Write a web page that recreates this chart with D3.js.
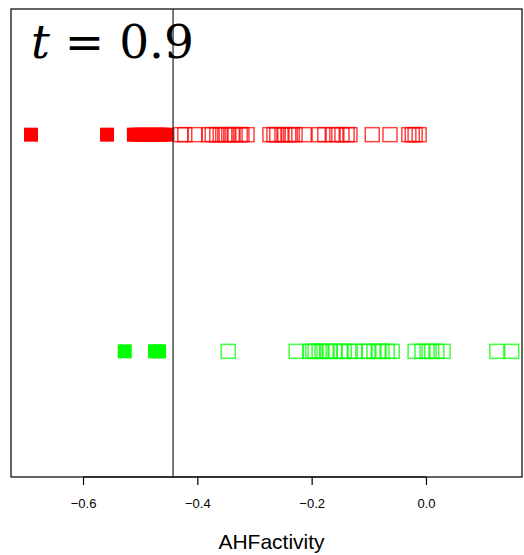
<!DOCTYPE html>
<html>
<head>
<meta charset="utf-8">
<script src="https://cdn.jsdelivr.net/npm/d3@7"></script>
<style>
  body { margin: 0; background: #fff; }
  svg { display: block; }
</style>
</head>
<body>
<svg id="chart" width="524" height="555"></svg>
<script>
// AHFactivity values per group
const redValues = [
  -0.691, -0.558, -0.511, -0.504, -0.497, -0.490, -0.483, -0.476, -0.469, -0.462, -0.455,
  -0.429, -0.422, -0.404, -0.380, -0.374, -0.366, -0.360, -0.352, -0.345, -0.339, -0.334,
  -0.325, -0.322, -0.313, -0.273, -0.266, -0.261, -0.252, -0.247, -0.240, -0.234, -0.229,
  -0.213, -0.187, -0.177, -0.164, -0.156, -0.147, -0.138, -0.133, -0.094, -0.063, -0.030,
  -0.024, -0.019, -0.012
];
const greenValues = [
  -0.527, -0.474, -0.467,
  -0.346, -0.227, -0.203, -0.198, -0.194, -0.187, -0.182, -0.173, -0.168, -0.159, -0.150,
  -0.143, -0.135, -0.124, -0.108, -0.100, -0.091, -0.082, -0.077, -0.068, -0.059, -0.019,
  -0.007, 0.002, 0.010, 0.019, 0.030, 0.124, 0.150
];
const groups = [
  {name: "red", level: 2, color: "#ff0000", values: redValues},
  {name: "green", level: 1, color: "#00ff00", values: greenValues}
];
const threshold = -0.4425;
const tValue = "0.9";
const xTicks = [-0.6, -0.4, -0.2, 0.0];
const xLabel = "AHFactivity";

const box = {left: 11, top: 9, right: 522, bottom: 477};
const SIZE = 14;

const svg = d3.select("#chart");

const x = d3.scaleLinear().domain([-0.726, 0.168]).range([box.left, box.right]);
const y = d3.scaleLinear().domain([0.42, 2.58]).range([box.bottom, box.top]);

// points
groups.forEach(g => {
    svg.append("g")
        .selectAll("rect")
        .data(g.values)
        .join("rect")
        .attr("x", d => x(d) - SIZE / 2)
        .attr("y", y(g.level) - SIZE / 2)
        .attr("width", SIZE)
        .attr("height", SIZE)
        .attr("fill", d => d < threshold ? g.color : "none")
        .attr("stroke", g.color)
        .attr("stroke-width", d => d < threshold ? 0 : 1.5)
        .attr("stroke-opacity", 0.75);
});

// threshold line
svg.append("line")
    .attr("x1", x(threshold)).attr("x2", x(threshold))
    .attr("y1", box.top).attr("y2", box.bottom)
    .attr("stroke", "#222")
    .attr("stroke-width", 1.2);

// box
svg.append("rect")
    .attr("x", box.left).attr("y", box.top)
    .attr("width", box.right - box.left)
    .attr("height", box.bottom - box.top)
    .attr("fill", "none")
    .attr("stroke", "#000")
    .attr("stroke-width", 1.2);

// x axis
const axis = svg.append("g")
    .attr("transform", `translate(0,${box.bottom})`)
    .call(d3.axisBottom(x).tickValues(xTicks).tickFormat(d3.format(".1f")).tickSize(8).tickPadding(14));
axis.select(".domain")
    .attr("d", `M${x(xTicks[0])},0H${x(xTicks[xTicks.length - 1])}`)
    .attr("stroke-width", 1.2);
axis.selectAll(".tick line").attr("stroke-width", 1.2);
axis.selectAll("text")
    .attr("font-family", "Liberation Sans, Arial, sans-serif")
    .attr("font-size", 13)
    .attr("fill", "#000");

svg.append("text")
    .attr("x", (box.left + box.right) / 2 + 5)
    .attr("y", 549)
    .attr("text-anchor", "middle")
    .attr("font-family", "Liberation Sans, Arial, sans-serif")
    .attr("font-size", 21)
    .text(xLabel);

// t label
const tl = svg.append("text")
    .attr("x", 31)
    .attr("y", 58)
    .attr("font-family", "DejaVu Serif, serif")
    .attr("font-size", 47);
tl.append("tspan").attr("font-style", "italic").text("t");
tl.append("tspan").text(" = " + tValue);
</script>
</body>
</html>
